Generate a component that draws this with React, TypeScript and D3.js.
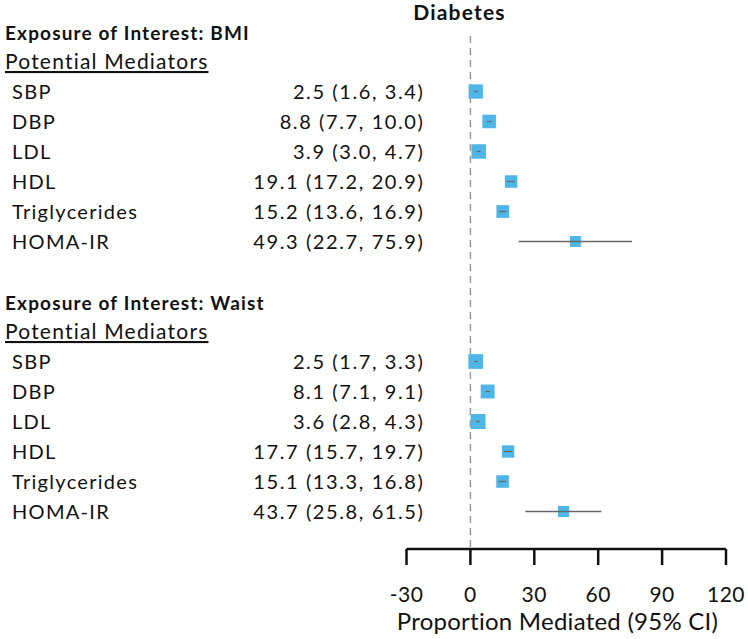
import React from "react";
import * as d3 from "d3";

const mediators = ["SBP", "DBP", "LDL", "HDL", "Triglycerides", "HOMA-IR"];
const bmiEst = [2.5, 8.8, 3.9, 19.1, 15.2, 49.3];
const bmiLo = [1.6, 7.7, 3.0, 17.2, 13.6, 22.7];
const bmiHi = [3.4, 10.0, 4.7, 20.9, 16.9, 75.9];
const waistEst = [2.5, 8.1, 3.6, 17.7, 15.1, 43.7];
const waistLo = [1.7, 7.1, 2.8, 15.7, 13.3, 25.8];
const waistHi = [3.3, 9.1, 4.3, 19.7, 16.8, 61.5];
const exposures = ["BMI", "Waist"];
const xTicks = [-30, 0, 30, 60, 90, 120];
const title = "Diabetes";
const xLabel = "Proportion Mediated (95% CI)";

const FONT = "Lato, 'Open Sans', sans-serif";

export default function App() {
  const W = 748, H = 639;
  const x = d3.scaleLinear().domain([-30, 120]).range([406.5, 726]);
  const y = d3.scaleLinear().domain([0, 16]).range([31.5, 511.5]);
  const size = d3.scaleLinear().domain([0, 0.67]).range([10.8, 15]).clamp(true);

  type Row = { label: string; est: number; lo: number; hi: number; idx: number };
  const rows: Row[] = [];
  const groups = [
    { name: exposures[0], est: bmiEst, lo: bmiLo, hi: bmiHi, start: 0 },
    { name: exposures[1], est: waistEst, lo: waistLo, hi: waistHi, start: 9 },
  ];
  groups.forEach((g) => {
    mediators.forEach((m, i) => {
      rows.push({ label: m, est: g.est[i], lo: g.lo[i], hi: g.hi[i], idx: g.start + 2 + i });
    });
  });
  const fmt = d3.format(".1f");

  return (
    <svg width={W} height={H} style={{ position: "absolute", left: 0, top: 0, background: "#fff" }} fontFamily={FONT}>
      <rect width={W} height={H} fill="#fff" />
      <text x={459.5} y={20} textAnchor="middle" fontWeight="bold" fontSize={21} letterSpacing={1.2} fill="#111">{title}</text>
      <line x1={x(0)} x2={x(0)} y1={36} y2={549} stroke="#999" strokeWidth={1.5} strokeDasharray="7,5" />
      {groups.map((g) => (
        <g key={g.name}>
          <text x={5} y={y(g.start) + 8} fontWeight="bold" fontSize={19} letterSpacing={1.15} fill="#111">{`Exposure of Interest: ${g.name}`}</text>
          <text x={5} y={y(g.start + 1) + 7.5} fontSize={21} letterSpacing={1.2} fill="#111" textDecoration="underline">Potential Mediators</text>
        </g>
      ))}
      {rows.map((r, i) => {
        const s = size(1 / (r.hi - r.lo));
        return (
          <g key={i}>
            <text x={12} y={y(r.idx) + 7.5} fontSize={20} letterSpacing={1.3} fill="#111">{r.label}</text>
            <text x={424.5} y={y(r.idx) + 7.5} fontSize={20} letterSpacing={1.6} fill="#111" textAnchor="end">{`${fmt(r.est)} (${fmt(r.lo)}, ${fmt(r.hi)})`}</text>
            <rect x={x(r.est) - s / 2} y={y(r.idx) - s / 2} width={s} height={s} fill="#4fb6e8" />
            <line x1={x(r.lo)} x2={x(r.hi)} y1={y(r.idx)} y2={y(r.idx)} stroke="#666" strokeWidth={1.3} />
          </g>
        );
      })}
      <line x1={x(-30)} x2={x(120)} y1={549} y2={549} stroke="#111" strokeWidth={2.5} />
      {xTicks.map((t) => (
        <g key={t}>
          <line x1={x(t)} x2={x(t)} y1={549} y2={565} stroke="#111" strokeWidth={2.5} />
          <text x={x(t)} y={602} textAnchor="middle" fontSize={21} letterSpacing={0.5} fill="#111">{t}</text>
        </g>
      ))}
      <text x={557.5} y={630} textAnchor="middle" fontSize={24} letterSpacing={0.25} fill="#111">{xLabel}</text>
    </svg>
  );
}
